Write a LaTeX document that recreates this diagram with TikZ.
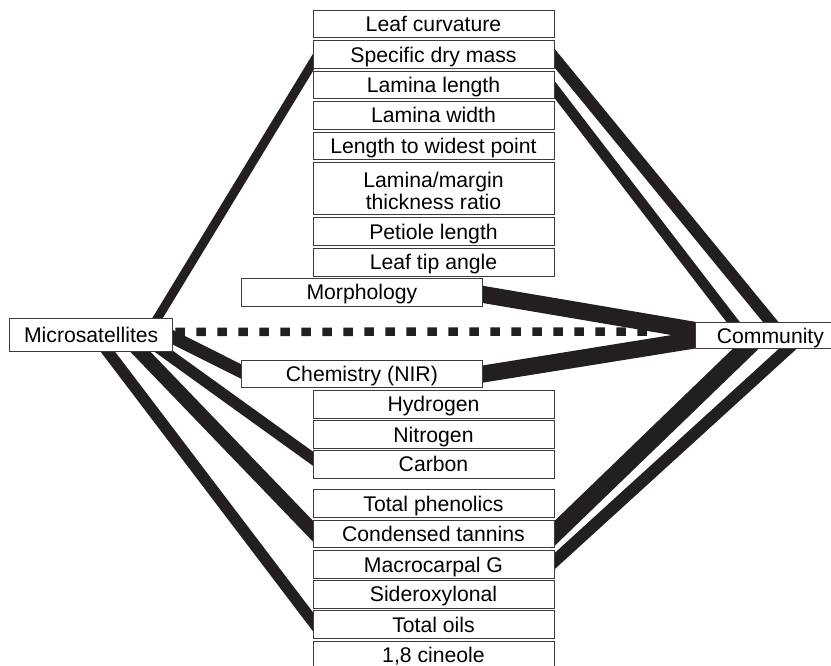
\documentclass[tikz,border=0pt]{standalone}
\usepackage{fontspec}
\setmainfont{Liberation Sans}
\usetikzlibrary{calc}
\pgfdeclarelayer{bg}
\pgfsetlayers{bg,main}
\definecolor{linecol}{RGB}{35,31,32}
\definecolor{boxcol}{RGB}{60,60,60}
\begin{document}
\begin{tikzpicture}[x=1pt,y=-1pt,
  tbox/.style={draw=boxcol, line width=0.8pt, fill=white, inner sep=0pt, anchor=north west,
    font=\fontsize{21.2}{21.3}\selectfont, text height=15.2pt, text depth=0pt, align=center,
    minimum height=28pt},
  cbox/.style={tbox, minimum width=240.8pt},
  wbox/.style={tbox, minimum width=241pt},
  band/.style={draw=linecol, line cap=butt, shorten <=-12pt, shorten >=-12pt}]
\useasboundingbox (0,0) rectangle (831,665);
% trait boxes
\node[cbox, minimum height=27.5pt] (lc)  at (312.7,9.5)   {Leaf curvature};
\node[cbox] (sdm) at (312.7,40)    {Specific dry mass};
\node[cbox, minimum height=27.6pt] (ll)  at (312.7,70.7)  {Lamina length};
\node[cbox, minimum height=27.7pt] (lw)  at (312.7,101)   {Lamina width};
\node[cbox, minimum height=27.8pt] (lwp) at (312.7,131.5) {Length to widest point};
\node[cbox, minimum height=52pt, text height=41.5pt] (lmr) at (312.7,162) {Lamina/margin\\thickness ratio};
\node[cbox] (pl)  at (312.7,217)   {Petiole length};
\node[cbox, minimum height=27.7pt] (lta) at (312.7,248)   {Leaf tip angle};
\node[wbox, minimum height=27.7pt] (morph) at (241,278)   {Morphology};
\node[tbox, minimum width=163pt, minimum height=32.7pt] (micro) at (9.3,318.3) {Microsatellites};
\node[tbox, minimum width=150pt, minimum height=26.6pt] (comm) at (695,321.7) {Community};
\node[wbox, minimum height=27.3pt] (chem) at (241,360)    {Chemistry (NIR)};
\node[cbox, minimum height=28.5pt] (hyd) at (312.7,389.5) {Hydrogen};
\node[cbox, minimum height=28.3pt] (nit) at (312.7,420)   {Nitrogen};
\node[cbox, minimum height=28.2pt] (carb) at (312.7,449.5) {Carbon};
\node[cbox] (tp)  at (312.7,489.3) {Total phenolics};
\node[cbox, minimum height=27.5pt] (ct)  at (312.7,519.5) {Condensed tannins};
\node[cbox, minimum height=28.3pt] (mg)  at (312.7,550)   {Macrocarpal G};
\node[cbox, minimum height=27.7pt] (sid) at (312.7,580)   {Sideroxylonal};
\node[cbox, minimum height=28.3pt] (to)  at (312.7,610)   {Total oils};
\node[cbox, minimum height=28.5pt] (cin) at (312.7,640.5) {1,8 cineole};
\coordinate (dotend) at (650,331.5);
\begin{pgfonlayer}{bg}
% Microsatellites connectors
\draw[band, line width=9pt]    ($(micro.north)+(66.2,0)$) -- ($(sdm.west)+(0,8.5)$);
\draw[band, line width=13pt]   ($(micro.east)+(0,2.35)$) -- ($(chem.west)+(0,-2.65)$);
\draw[band, line width=11.5pt] ($(micro.south)+(73.2,0)$) -- ($(carb.west)+(0,-5.5)$);
\draw[band, line width=14.5pt] ($(micro.south)+(49.2,0)$) -- ($(ct.west)+(0,-2.75)$);
\draw[band, line width=11.5pt] ($(micro.south)+(16.7,0)$) -- ($(to.west)+(0,-3.15)$);
\draw[draw=linecol, line width=8.5pt, dash pattern=on 9.5pt off 11.5pt] ($(micro.east)+(2.2,-3.15)$) -- (dotend);
% Community connectors
\draw[band, line width=12pt]   ($(sdm.east)+(0,3.5)$) -- (comm.north);
\draw[band, line width=10.5pt] ($(ll.east)+(0,4.3)$) -- ($(comm.north)+(-37.5,0)$);
\draw[band, line width=17pt]   ($(morph.east)+(0,2.15)$) -- ($(comm.west)+(0,-5)$);
\draw[band, line width=17pt]   (chem.east) -- ($(comm.west)+(0,4.5)$);
\draw[band, line width=18pt]   (ct.east) -- ($(comm.south)+(-25,0)$);
\draw[band, line width=12pt]   ($(mg.east)+(0,-3.15)$) -- ($(comm.south)+(17,0)$);
\end{pgfonlayer}
\end{tikzpicture}
\end{document}
